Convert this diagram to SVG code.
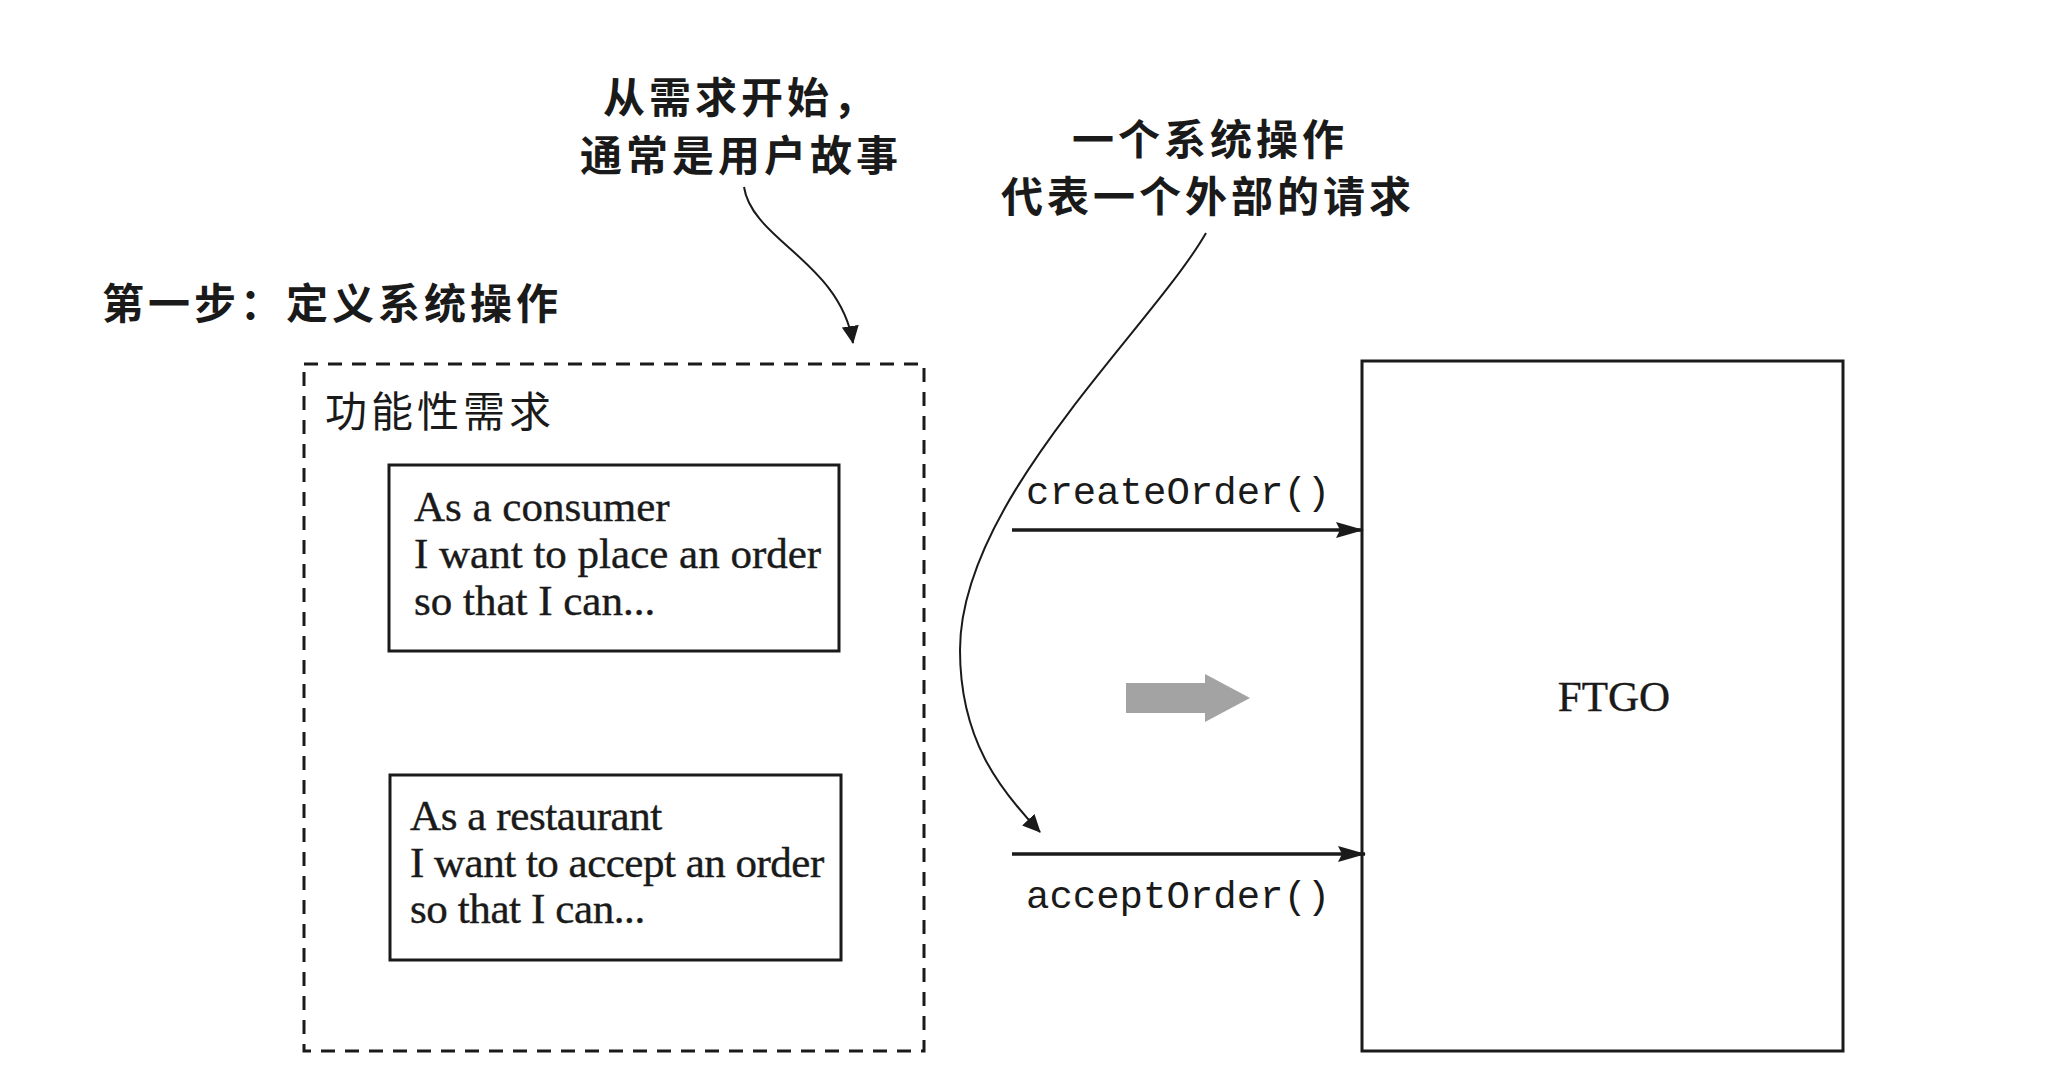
<svg xmlns="http://www.w3.org/2000/svg" width="2053" height="1080" viewBox="0 0 2053 1080">
<defs>
<style>
.cjkb{font-family:"Noto Sans CJK SC","Noto Sans",sans-serif;font-weight:bold;font-size:42px;fill:#1a1a1a}
.cjk{font-family:"Noto Sans CJK SC","Noto Sans",sans-serif;font-size:42px;fill:#1a1a1a}
.serif{font-family:"Liberation Serif","Times New Roman",serif;font-size:43px;fill:#1a1a1a;stroke:#1a1a1a;stroke-width:0.4}
.mono{font-family:"Liberation Mono","Courier New",monospace;font-size:39px;fill:#1a1a1a}
.box{fill:#fff;stroke:#1a1a1a;stroke-width:3}
.dash{fill:none;stroke:#1a1a1a;stroke-width:3;stroke-dasharray:14 10}
.conn{fill:none;stroke:#1a1a1a;stroke-width:3.5}
.curve{fill:none;stroke:#1a1a1a;stroke-width:2}
</style>
<marker id="ahs" viewBox="0 0 28 16" refX="27" refY="8" markerWidth="28" markerHeight="16" markerUnits="userSpaceOnUse" orient="auto">
<path d="M0 0 L28 8 L0 16 L4 8 Z" fill="#1a1a1a"/>
</marker>
<marker id="ahc" viewBox="0 0 18 17" refX="17" refY="8.5" markerWidth="18" markerHeight="17" markerUnits="userSpaceOnUse" orient="auto">
<path d="M0 0 L18 8.5 L0 17 Z" fill="#1a1a1a"/>
</marker>
</defs>
<rect width="2053" height="1080" fill="#fff"/>

<g id="title">
<text class="cjkb" x="102" y="319" letter-spacing="4">第一步：定义系统操作</text>
</g>

<g id="note-requirements">
<text class="cjkb" text-anchor="middle" letter-spacing="4"><tspan x="741" y="113">从需求开始，</tspan><tspan x="741" y="171">通常是用户故事</tspan></text>
</g>

<g id="note-operation">
<text class="cjkb" text-anchor="middle" letter-spacing="4"><tspan x="1210" y="155">一个系统操作</tspan><tspan x="1208" y="212">代表一个外部的请求</tspan></text>
</g>

<g id="functional-requirements">
<rect class="dash" x="304" y="364" width="620" height="687"/>
<text class="cjk" x="325" y="427" letter-spacing="4">功能性需求</text>
</g>

<g id="story-consumer">
<rect class="box" x="389" y="465" width="450" height="186"/>
<text class="serif" x="414" y="521">As a consumer</text>
<text class="serif" x="414" y="568">I want to place an order</text>
<text class="serif" x="414" y="615">so that I can...</text>
</g>

<g id="story-restaurant">
<rect class="box" x="390" y="775" width="451" height="185"/>
<text class="serif" x="410" y="830" letter-spacing="-0.4">As a restaurant</text>
<text class="serif" x="410" y="877" letter-spacing="-0.5">I want to accept an order</text>
<text class="serif" x="410" y="923" letter-spacing="-0.4">so that I can...</text>
</g>

<g id="ftgo">
<rect class="box" x="1362" y="361" width="481" height="690"/>
<text class="serif" x="1614" y="711" text-anchor="middle" font-size="44">FTGO</text>
</g>

<g id="transition-arrow">
<path d="M1126 683 L1205 683 L1205 674 L1250 698 L1205 722 L1205 713 L1126 713 Z" fill="#a3a3a3"/>
</g>

<g id="connectors">
<path class="conn" d="M1012 530 L1363 530" marker-end="url(#ahs)"/>
<text class="mono" x="1026" y="504">createOrder()</text>
<path class="conn" d="M1012 854 L1365 854" marker-end="url(#ahs)"/>
<text class="mono" x="1026" y="908">acceptOrder()</text>
<path class="curve" d="M744 187 C 752 240, 840 262, 853 343" marker-end="url(#ahc)"/>
<path class="curve" d="M1206 233 C 1150 330, 960 500, 960 650 C 960 740, 1000 790, 1040 832" marker-end="url(#ahc)"/>
</g>
</svg>
